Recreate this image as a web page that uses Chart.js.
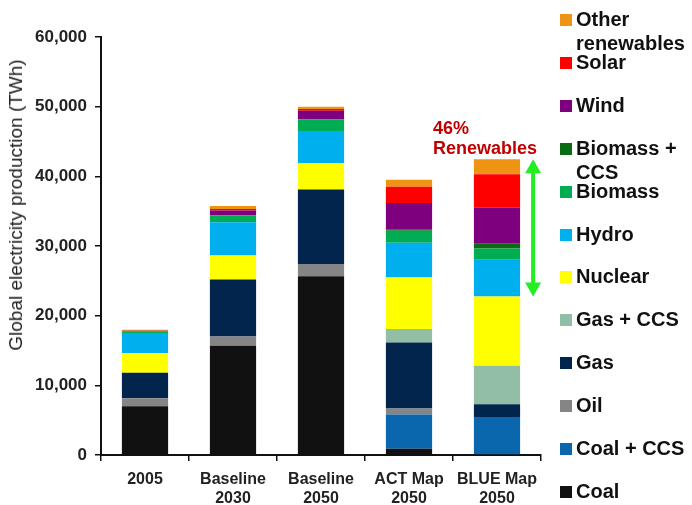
<!DOCTYPE html>
<html>
<head>
<meta charset="utf-8">
<script src="https://cdn.jsdelivr.net/npm/chart.js@4/dist/chart.umd.min.js"></script>
<style>
  html, body { margin: 0; padding: 0; background: #fff; }
  #wrap { position: relative; width: 692px; height: 505px; overflow: hidden; font-family: "Liberation Sans", Arial, sans-serif; }
  canvas { position: absolute; left: 0; top: 0; }
  .leg { position: absolute; left: 560px; font-weight: bold; font-size: 20px; line-height: 24px; color: #111; white-space: nowrap; }
  .leg .sw { position: absolute; left: 0; top: 7px; width: 12px; height: 12px; }
  .leg .tx { position: absolute; left: 16px; top: 0; }
  #ytitle { position: absolute; font-size: 19px; color: #222; white-space: nowrap; transform: translate(-50%, -50%) rotate(-90deg); left: 16px; top: 205px; }
  .ann { position: absolute; color: #c00000; font-weight: bold; font-size: 18px; line-height: 20px; white-space: nowrap; }
</style>
</head>
<body>
<div id="wrap">
  <canvas id="c" width="692" height="505"></canvas>
  <div id="ytitle">Global electricity production (TWh)</div>
  <div class="ann" style="left:433px; top:118px;">46%</div>
  <div class="ann" style="left:433px; top:138px;">Renewables</div>
  <div id="legend"></div>
</div>
<script>
// ---- Data (TWh) ----
const categories = [["2005"], ["Baseline", "2030"], ["Baseline", "2050"], ["ACT Map", "2050"], ["BLUE Map", "2050"]];
const yTicks = [0, 10000, 20000, 30000, 40000, 50000, 60000];

const coal          = [7000, 15690, 25660,  900,    0];
const coalCCS       = [   0,     0,     0, 4900, 5470];
const oil           = [1150,  1310,  1740,  860,    0];
const gas           = [3650,  8200, 10700, 9500, 1820];
const gasCCS        = [   0,     0,     0, 1920, 5510];
const nuclear       = [2830,  3440,  3800, 7390, 9940];
const hydro         = [2870,  4760,  4600, 4990, 5280];
const biomass       = [ 230,  1000,  1700, 1730, 1620];
const biomassCCS    = [   0,     0,     0,  140,  680];
const wind          = [ 100,   700,  1200, 3830, 5180];
const solar         = [  10,   200,   250, 2340, 4790];
const otherRenew    = [ 150,   450,   350, 1000, 2160];

const seriesNames  = ["Coal", "Coal + CCS", "Oil", "Gas", "Gas + CCS", "Nuclear", "Hydro", "Biomass", "Biomass + CCS", "Wind", "Solar", "Other renewables"];
const legendLabels = [["Coal"], ["Coal + CCS"], ["Oil"], ["Gas"], ["Gas + CCS"], ["Nuclear"], ["Hydro"], ["Biomass"], ["Biomass +", "CCS"], ["Wind"], ["Solar"], ["Other", "renewables"]];
const seriesData   = [coal, coalCCS, oil, gas, gasCCS, nuclear, hydro, biomass, biomassCCS, wind, solar, otherRenew];
const seriesColors = ["#111111", "#0a66ad", "#858585", "#02254d", "#93bea6", "#ffff00", "#00b0ee", "#00ad52", "#0a6b12", "#7e007e", "#ff0000", "#ee9412"];

// renewable series indices (for the arrow annotation)
const renewableIdx = [6, 7, 8, 9, 10, 11];
const arrowCategory = 4;

// ---- Legend (HTML, top item = last series) ----
const legendEl = document.getElementById('legend');
for (let k = 0; k < seriesNames.length; k++) {
  const i = seriesNames.length - 1 - k;
  const d = document.createElement('div');
  d.className = 'leg';
  d.style.top = (7 + 42.9 * k) + 'px';
  const sw = document.createElement('div');
  sw.className = 'sw';
  sw.style.background = seriesColors[i];
  const tx = document.createElement('div');
  tx.className = 'tx';
  tx.innerHTML = legendLabels[i].join('<br>');
  d.appendChild(sw); d.appendChild(tx);
  legendEl.appendChild(d);
}

// ---- Arrow plugin ----
const arrowPlugin = {
  id: 'arrow',
  afterDatasetsDraw(chart) {
    const ys = chart.scales.y;
    let total = 0, nonRenew = 0;
    seriesData.forEach((arr, i) => { total += arr[arrowCategory]; if (!renewableIdx.includes(i)) nonRenew += arr[arrowCategory]; });
    const meta = chart.getDatasetMeta(0);
    const bar = meta.data[arrowCategory];
    const x = bar.x + bar.width / 2 + 13;
    const y1 = ys.getPixelForValue(total), y2 = ys.getPixelForValue(nonRenew);
    const ctx = chart.ctx;
    ctx.save();
    ctx.fillStyle = '#22ee22';
    ctx.strokeStyle = '#22ee22';
    ctx.lineWidth = 4;
    const hl = 14, hw = 8;
    ctx.beginPath(); ctx.moveTo(x, y1 + hl - 2); ctx.lineTo(x, y2 - hl + 2); ctx.stroke();
    ctx.beginPath(); ctx.moveTo(x, y1); ctx.lineTo(x - hw, y1 + hl); ctx.lineTo(x + hw, y1 + hl); ctx.closePath(); ctx.fill();
    ctx.beginPath(); ctx.moveTo(x, y2); ctx.lineTo(x - hw, y2 - hl); ctx.lineTo(x + hw, y2 - hl); ctx.closePath(); ctx.fill();
    ctx.restore();
  }
};

new Chart(document.getElementById('c'), {
  type: 'bar',
  data: {
    labels: categories,
    datasets: seriesData.map((d, i) => ({
      label: seriesNames[i],
      data: d,
      backgroundColor: seriesColors[i],
      borderWidth: 0,
      categoryPercentage: 1.0,
      barPercentage: 0.525
    }))
  },
  options: {
    responsive: false,
    animation: false,
    devicePixelRatio: 1,
    layout: { padding: { top: 37, right: 151, bottom: 0, left: 0 } },
    plugins: { legend: { display: false }, tooltip: { enabled: false }, title: { display: false } },
    scales: {
      x: {
        stacked: true,
        afterFit(s) { s.height = 50; },
        border: { display: true, color: '#111', width: 2 },
        grid: { display: true, drawOnChartArea: false, drawTicks: true, tickLength: 6, color: '#111', lineWidth: 1.5, offset: true },
        ticks: { color: '#222', font: { family: 'Liberation Sans', size: 16, weight: 'bold' }, padding: 9, maxRotation: 0, autoSkip: false }
      },
      y: {
        stacked: true,
        min: 0, max: 60000,
        afterFit(s) { s.width = 101; },
        afterBuildTicks(s) { s.ticks = yTicks.map(v => ({ value: v })); },
        border: { display: true, color: '#111', width: 2 },
        grid: { display: true, drawOnChartArea: false, drawTicks: true, tickLength: 6, color: '#111', lineWidth: 1.5 },
        ticks: {
          color: '#222', font: { family: 'Liberation Sans', size: 17, weight: 'bold' }, padding: 8,
          callback: v => v.toLocaleString('en-US')
        }
      }
    }
  },
  plugins: [arrowPlugin]
});
</script>
</body>
</html>
